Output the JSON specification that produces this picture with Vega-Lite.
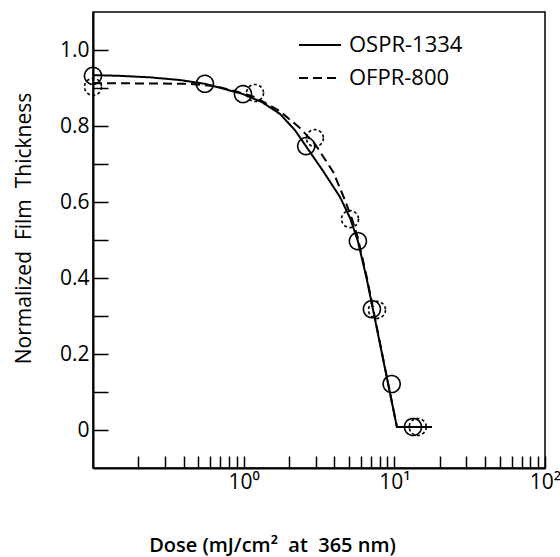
{
  "$schema": "https://vega.github.io/schema/vega-lite/v6.json",
  "autosize": "none",
  "width": 452,
  "height": 456,
  "padding": {"left": 93, "top": 12, "right": 15, "bottom": 89},
  "background": "white",
  "config": {
    "font": "Open Sans",
    "view": {"stroke": "black", "strokeWidth": 1.5},
    "axis": {"grid": false, "domainColor": "black", "domainWidth": 2, "tickColor": "black", "tickWidth": 1.5, "labelColor": "black", "titleColor": "black", "labelFont": "Open Sans", "titleFont": "Open Sans"}
  },
  "datasets": {
    "curves": [
      {"dose": 0.1, "thickness": 0.934, "resist": "OSPR-1334"},
      {"dose": 0.151, "thickness": 0.932, "resist": "OSPR-1334"},
      {"dose": 0.239, "thickness": 0.928, "resist": "OSPR-1334"},
      {"dose": 0.378, "thickness": 0.921, "resist": "OSPR-1334"},
      {"dose": 0.553, "thickness": 0.911, "resist": "OSPR-1334"},
      {"dose": 0.751, "thickness": 0.897, "resist": "OSPR-1334"},
      {"dose": 0.989, "thickness": 0.884, "resist": "OSPR-1334"},
      {"dose": 1.32, "thickness": 0.863, "resist": "OSPR-1334"},
      {"dose": 1.74, "thickness": 0.832, "resist": "OSPR-1334"},
      {"dose": 2.19, "thickness": 0.789, "resist": "OSPR-1334"},
      {"dose": 2.59, "thickness": 0.747, "resist": "OSPR-1334"},
      {"dose": 3.36, "thickness": 0.682, "resist": "OSPR-1334"},
      {"dose": 4.36, "thickness": 0.613, "resist": "OSPR-1334"},
      {"dose": 5.08, "thickness": 0.558, "resist": "OSPR-1334"},
      {"dose": 5.73, "thickness": 0.497, "resist": "OSPR-1334"},
      {"dose": 6.58, "thickness": 0.395, "resist": "OSPR-1334"},
      {"dose": 10.4, "thickness": 0.008, "resist": "OSPR-1334"},
      {"dose": 17.8, "thickness": 0.008, "resist": "OSPR-1334"},
      {"dose": 0.1, "thickness": 0.913, "resist": "OFPR-800"},
      {"dose": 0.44, "thickness": 0.911, "resist": "OFPR-800"},
      {"dose": 0.645, "thickness": 0.905, "resist": "OFPR-800"},
      {"dose": 0.876, "thickness": 0.892, "resist": "OFPR-800"},
      {"dose": 1.19, "thickness": 0.876, "resist": "OFPR-800"},
      {"dose": 1.74, "thickness": 0.839, "resist": "OFPR-800"},
      {"dose": 2.36, "thickness": 0.795, "resist": "OFPR-800"},
      {"dose": 2.97, "thickness": 0.753, "resist": "OFPR-800"},
      {"dose": 3.93, "thickness": 0.679, "resist": "OFPR-800"},
      {"dose": 4.7, "thickness": 0.605, "resist": "OFPR-800"},
      {"dose": 5.26, "thickness": 0.553, "resist": "OFPR-800"},
      {"dose": 5.73, "thickness": 0.505, "resist": "OFPR-800"},
      {"dose": 6.58, "thickness": 0.4, "resist": "OFPR-800"},
      {"dose": 10.4, "thickness": 0.008, "resist": "OFPR-800"},
      {"dose": 17.8, "thickness": 0.008, "resist": "OFPR-800"}
    ],
    "points": [
      {"dose": 0.1, "thickness": 0.932, "resist": "OSPR-1334"},
      {"dose": 0.553, "thickness": 0.911, "resist": "OSPR-1334"},
      {"dose": 0.99, "thickness": 0.884, "resist": "OSPR-1334"},
      {"dose": 2.6, "thickness": 0.747, "resist": "OSPR-1334"},
      {"dose": 5.73, "thickness": 0.497, "resist": "OSPR-1334"},
      {"dose": 7.1, "thickness": 0.318, "resist": "OSPR-1334"},
      {"dose": 9.6, "thickness": 0.121, "resist": "OSPR-1334"},
      {"dose": 13.3, "thickness": 0.008, "resist": "OSPR-1334"},
      {"dose": 0.1, "thickness": 0.903, "resist": "OFPR-800"},
      {"dose": 1.19, "thickness": 0.887, "resist": "OFPR-800"},
      {"dose": 2.97, "thickness": 0.768, "resist": "OFPR-800"},
      {"dose": 5.08, "thickness": 0.555, "resist": "OFPR-800"},
      {"dose": 7.67, "thickness": 0.316, "resist": "OFPR-800"},
      {"dose": 14.3, "thickness": 0.008, "resist": "OFPR-800"}
    ]
  },
  "encoding": {
    "x": {
      "field": "dose", "type": "quantitative",
      "scale": {"type": "log", "domain": [0.1, 100], "nice": false},
      "axis": {
        "values": [0.2,0.3,0.4,0.5,0.6,0.7,0.8,0.9,1,2,3,4,5,6,7,8,9,10,20,30,40,50,60,70,80,90,100],
        "labelExpr": "datum.value == 1 ? '10⁰' : datum.value == 10 ? '10¹' : datum.value == 100 ? '10²' : ''",
        "tickSize": -12, "labelPadding": 15, "labelFontSize": 21, "labelFlush": false, "labelOverlap": false,
        "title": "Dose (mJ/cm²\u00a0 at\u00a0 365 nm)", "titleFontSize": 20, "titleFontWeight": 600,
        "titleX": 179, "titleY": 77, "titleAlign": "center", "titleBaseline": "middle"
      }
    },
    "y": {
      "field": "thickness", "type": "quantitative",
      "scale": {"domain": [-0.1, 1.1], "nice": false, "zero": false},
      "axis": {
        "values": [0,0.1,0.2,0.3,0.4,0.5,0.6,0.7,0.8,0.9,1.0],
        "labelExpr": "round(datum.value*10) % 2 == 0 ? (datum.value == 0 ? '0' : format(datum.value, '.1f')) : ''",
        "tickSize": -15, "labelPadding": 19, "labelFontSize": 21, "labelOverlap": false,
        "title": "Normalized\u00a0 Film\u00a0 Thickness", "titleFontSize": 21, "titleFontWeight": "normal",
        "titleX": -69, "titleY": 216, "titleAlign": "center", "titleBaseline": "middle", "titleAngle": 270
      }
    }
  },
  "layer": [
    {
      "data": {"name": "curves"},
      "mark": {"type": "line", "color": "black", "strokeWidth": 2},
      "encoding": {
        "strokeDash": {
          "field": "resist", "type": "nominal",
          "scale": {"domain": ["OSPR-1334", "OFPR-800"], "range": [[1, 0], [9, 5]]},
          "legend": {
            "orient": "none", "legendX": 205, "legendY": 11, "title": null, "padding": 0,
            "symbolType": "stroke", "symbolSize": 1764, "symbolStrokeWidth": 2, "symbolStrokeColor": "black",
            "labelFontSize": 22, "labelOffset": 7, "rowPadding": -3, "labelColor": "black", "labelFont": "Open Sans"
          }
        }
      }
    },
    {
      "data": {"name": "points"},
      "mark": {"type": "point", "shape": "circle", "filled": false, "color": "black", "size": 289, "strokeWidth": 1.6, "opacity": 1},
      "encoding": {
        "strokeDash": {
          "field": "resist", "type": "nominal",
          "scale": {"domain": ["OSPR-1334", "OFPR-800"], "range": [[1, 0], [3, 2.5]]},
          "legend": null
        }
      }
    }
  ],
  "resolve": {"scale": {"strokeDash": "independent"}, "legend": {"strokeDash": "independent"}}
}
